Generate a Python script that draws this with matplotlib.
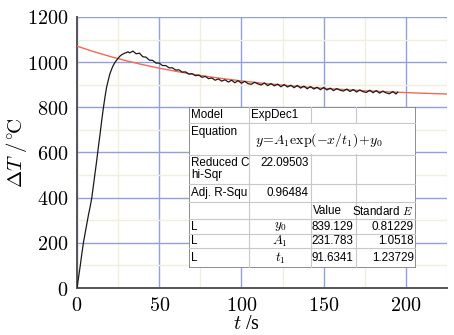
import matplotlib
matplotlib.use('agg')
import matplotlib.pyplot as plt
from matplotlib.patches import Rectangle

plt.rcParams['mathtext.fontset'] = 'cm'

T_MEAS = [0, 1, 2, 3, 4, 5, 6, 7, 8, 9, 10, 11, 12, 13, 14, 15, 16, 17, 18,
          19, 20, 21, 22, 23, 24, 25, 26, 27, 28, 29, 30, 31,
          32, 34, 36, 38, 40, 42, 44, 46, 48, 50, 52, 54, 56, 58, 60, 62,
          64, 66, 68, 70, 72, 74, 76, 78, 80, 82, 84, 86, 88, 90, 92, 94,
          96, 98, 100, 102, 104, 106, 108, 110, 112, 114, 116, 118, 120,
          122, 124, 126, 128, 130, 132, 134, 136, 138, 140, 142, 144, 146,
          148, 150, 152, 154, 156, 158, 160, 162, 164, 166, 168, 170, 172,
          174, 176, 178, 180, 182, 184, 186, 188, 190, 192, 194, 195]
DT_MEAS = [0, 50, 100, 155, 205, 245, 285, 325, 360, 400, 455, 510, 565,
           625, 680, 740, 795, 845, 889, 920, 948, 968, 985, 998, 1008,
           1017, 1026, 1032, 1036, 1040, 1042, 1046,
           1041, 1049, 1037, 1040, 1024, 1022, 1009, 1008, 996, 996, 985,
           985, 975, 975, 965, 966, 956, 957, 947, 949, 940, 943, 933, 937,
           927, 930, 920, 926, 916, 922, 912, 920, 909, 918, 907, 915, 905,
           902, 911, 904, 899, 908, 896, 905, 895, 903, 891, 901, 890,
           898, 887, 897, 885, 894, 882, 892, 881, 889, 878, 888, 877, 885,
           874, 883, 876, 872, 881, 870, 879, 868, 877, 869, 866, 876, 865,
           874, 863, 872, 864, 860, 870, 859, 867]

# ExpDec1 fit curve
T_FIT = [0, 10, 20, 30, 40, 50, 60, 70, 80, 90, 100, 110, 120, 130, 140,
         150, 160, 170, 180, 190, 200, 210, 220, 225]
DT_FIT = [1070.9, 1046.9, 1025.5, 1006.2, 988.9, 973.4, 959.6, 947.1, 935.9,
          925.9, 917.0, 908.9, 901.7, 895.2, 889.4, 884.2, 879.6, 875.4,
          871.6, 868.3, 865.3, 862.6, 860.1, 859.0]

X_TICKS = [0, 50, 100, 150, 200]
Y_TICKS = [0, 200, 400, 600, 800, 1000, 1200]

# fit report table
PARAM_NAMES = [r'$y_0$', r'$A_1$', r'$t_1$']
PARAM_VALUES = ['839.129', '231.783', '91.6341']
PARAM_ERRORS = ['0.81229', '1.0518', '1.23729']
CHI_SQR = '22.09503'
ADJ_R2 = '0.96484'

W, H = 454, 335
fig = plt.figure(figsize=(W / 100, H / 100), dpi=100)
ax = fig.add_axes([77 / W, (H - 288) / H, 370 / W, 271 / H])

ax.set_xlim(0, 225)
ax.set_ylim(0, 1200)
ax.set_xticks(X_TICKS)
ax.set_yticks(Y_TICKS)
ax.set_xticks([25, 75, 125, 175, 225], minor=True)
ax.set_yticks([100, 300, 500, 700, 900, 1100], minor=True)
ax.set_xticklabels([f'${v}$' for v in X_TICKS])
ax.set_yticklabels([f'${v}$' for v in Y_TICKS])
ax.tick_params(which='both', length=0, labelsize=14.5, pad=6)
ax.grid(True, which='major', color='#93a0da', lw=1.0)
ax.grid(True, which='minor', color='#f0eedc', lw=1.0)
ax.set_axisbelow(True)
for s in ['top', 'right']:
    ax.spines[s].set_visible(False)
for s in ['left', 'bottom']:
    ax.spines[s].set_color('#555555')
    ax.spines[s].set_linewidth(1.4)

ax.plot(T_FIT, DT_FIT, color='#f26a55', lw=1.0, zorder=3)
ax.plot(T_MEAS, DT_MEAS, color='#1a1a1a', lw=0.9, zorder=4)

ax.set_xlabel(r'$t$ /s', fontsize=14.5, family='Liberation Serif')
ax.set_ylabel(r'$\Delta T\ /^{\circ}\!\mathrm{C}$', fontsize=15)
ax.xaxis.set_label_coords(0.458, -0.1)
ax.yaxis.set_label_coords(-0.13, 0.5)

# table drawn in its own axes, in pixel units
tx0, ty0, tw, th = 189.3, 107.3, 226.4, 160.4
tab = fig.add_axes([tx0 / W, (H - ty0 - th) / H, tw / W, th / H])
tab.set_xlim(0, tw)
tab.set_ylim(th, 0)
tab.axis('off')
tab.add_patch(Rectangle((0, 0), tw, th, facecolor='white',
                        edgecolor='#7a7a7a', lw=1.2, zorder=1))
cols = [0, 60, 121.4, 166.4, tw]
rows = [0, 16, 47.7, 77, 94.4, 112, 127, 141, th]
inner = '#c8c8c8'
for r in rows[1:-1]:
    tab.plot([0, tw], [r, r], color=inner, lw=0.8, zorder=2)
for c in cols[1:-1]:
    tab.plot([c, c], [0, th], color=inner, lw=0.8, zorder=2)
# equation row spans the right-hand cells
tab.add_patch(Rectangle((cols[1] + 0.6, rows[1] + 0.6), tw - cols[1] - 1.8,
                        rows[2] - rows[1] - 1.2, facecolor='white',
                        edgecolor='none', zorder=2.5))
tab.plot([cols[1], cols[1]], [rows[1], rows[2]], color=inner, lw=0.8, zorder=3)

fs = 8.4
sans = 'Liberation Sans'
def cell(x, y, s, ha='left'):
    tab.text(x, y, s, ha=ha, va='center', fontsize=fs, family=sans, zorder=4)

cell(2, 8, 'Model')
cell(cols[1] + 2, 8, 'ExpDec1')
cell(2, 25, 'Equation')
tab.text(cols[1] + 6, 33, r'$y\!=\!A_1\mathrm{exp}(-x/t_1)\!+\!y_0$',
         ha='left', va='center', fontsize=10, zorder=4)
cell(2, 56, 'Reduced C')
cell(2, 68, 'hi-Sqr')
cell(cols[2] - 2, 56, CHI_SQR, ha='right')
cell(2, 86, 'Adj. R-Squ')
cell(cols[2] - 2, 86, ADJ_R2, ha='right')
cell(cols[2] + 2, 104, 'Value')
tab.text(tw - 2, 104, r'Standard $E$', ha='right', va='center',
         fontsize=fs, family=sans, zorder=4)
for i, (nm, v, e) in enumerate(zip(PARAM_NAMES, PARAM_VALUES, PARAM_ERRORS)):
    yc = (rows[5 + i] + rows[6 + i]) / 2
    cell(2, yc, 'L')
    tab.text((cols[1] + cols[2]) / 2, yc, nm, ha='center', va='center',
             fontsize=9.5, zorder=4)
    cell(cols[3] - 2, yc, v, ha='right')
    cell(tw - 2, yc, e, ha='right')

fig.savefig('out.png', dpi=100)
